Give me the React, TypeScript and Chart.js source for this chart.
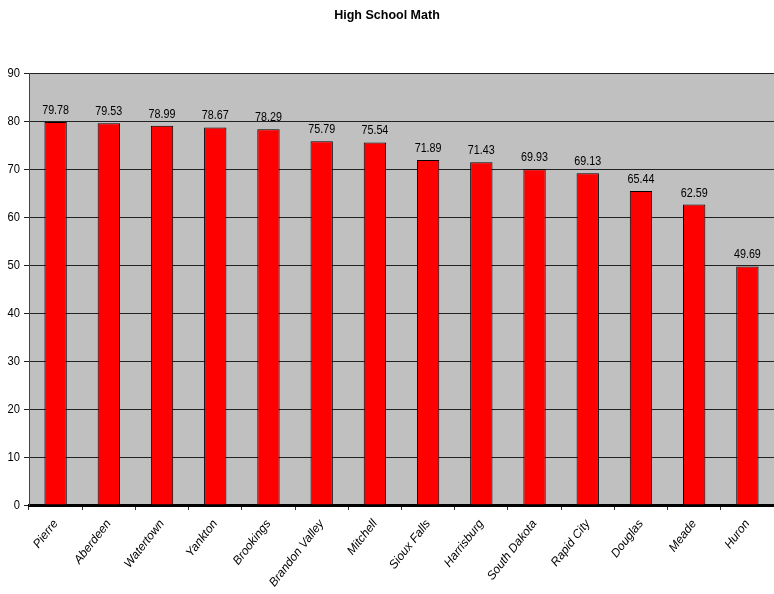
import React, { useEffect, useRef } from "react";
import { Chart, registerables } from "chart.js";

Chart.register(...registerables);

const categories = [
  "Pierre", "Aberdeen", "Watertown", "Yankton", "Brookings", "Brandon Valley", "Mitchell",
  "Sioux Falls", "Harrisburg", "South Dakota", "Rapid City", "Douglas", "Meade", "Huron",
];
const scores = [79.78, 79.53, 78.99, 78.67, 78.29, 75.79, 75.54, 71.89, 71.43, 69.93, 69.13, 65.44, 62.59, 49.69];
const yTicks = [0, 10, 20, 30, 40, 50, 60, 70, 80, 90];
const titleText = "High School Math";

const FONT = "'Liberation Sans', Arial, sans-serif";

const bgPlugin = {
  id: "plotBg",
  beforeDraw(chart: any) {
    const { ctx, chartArea } = chart;
    ctx.save();
    ctx.fillStyle = "#C0C0C0";
    ctx.fillRect(chartArea.left, chartArea.top, chartArea.right - chartArea.left, chartArea.bottom - chartArea.top);
    ctx.restore();
  },
};

function narrowText(ctx: any, text: string, x: number, y: number, align: string, size: number) {
  const sx = 0.86;
  ctx.save();
  ctx.font = `${size}px ${FONT}`;
  ctx.textAlign = align;
  ctx.translate(x, y);
  ctx.scale(sx, 1);
  ctx.fillText(text, 0, 0);
  ctx.restore();
}

const labelPlugin = {
  id: "valueLabels",
  afterDatasetsDraw(chart: any) {
    const { ctx } = chart;
    const meta = chart.getDatasetMeta(0);
    ctx.save();
    ctx.fillStyle = "#000";
    ctx.textBaseline = "alphabetic";
    meta.data.forEach((bar: any, i: number) => {
      narrowText(ctx, scores[i].toFixed(2), bar.x, bar.y - 8, "center", 12.5);
    });
    const ys = chart.scales.y;
    ctx.textBaseline = "middle";
    yTicks.forEach((v) => {
      narrowText(ctx, String(v), ys.left + 20, ys.getPixelForValue(v), "right", 13);
    });
    ctx.restore();
  },
};

export default function App() {
  const ref = useRef<HTMLCanvasElement>(null);
  useEffect(() => {
    const chart = new Chart(ref.current!, {
      type: "bar",
      data: {
        labels: categories,
        datasets: [
          {
            data: scores,
            backgroundColor: "#FF0000",
            borderColor: "#000000",
            borderWidth: 1,
            categoryPercentage: 1,
            barPercentage: 0.42,
          },
        ],
      },
      options: {
        animation: false,
        responsive: false,
        maintainAspectRatio: false,
        layout: { padding: 0 },
        plugins: {
          legend: { display: false },
          tooltip: { enabled: false },
          title: {
            display: true,
            text: titleText,
            color: "#000",
            font: { family: FONT, size: 12.5, weight: "bold" },
            padding: { top: 8, bottom: 50 },
          },
        },
        scales: {
          x: {
            offset: true,
            grid: {
              offset: true,
              drawOnChartArea: false,
              drawTicks: true,
              tickLength: 5,
              color: "#333",
            },
            border: { display: true, color: "#000", width: 3 },
            ticks: {
              minRotation: 52,
              maxRotation: 52,
              autoSkip: false,
              color: "#000",
              padding: 7,
              font: { family: FONT, size: 12, style: "italic" },
            },
            afterFit(scale: any) {
              scale.height = 89;
            },
          },
          y: {
            min: 0,
            max: 90,
            afterBuildTicks(scale: any) {
              scale.ticks = yTicks.map((v) => ({ value: v }));
            },
            grid: {
              color: "#222",
              lineWidth: 1,
              tickLength: 5,
            },
            border: { display: true, color: "#444", width: 1 },
            ticks: {
              color: "rgba(0,0,0,0)",
              padding: 4,
              font: { family: FONT, size: 13 },
            },
            afterFit(scale: any) {
              scale.width = 29;
            },
          },
        },
      },
      plugins: [bgPlugin, labelPlugin],
    });
    return () => chart.destroy();
  }, []);
  return (
    <div style={{ position: "fixed", left: 0, top: 0, width: 774, height: 594, background: "#fff" }}>
      <canvas ref={ref} width={774} height={594} style={{ width: 774, height: 594 }} />
    </div>
  );
}
